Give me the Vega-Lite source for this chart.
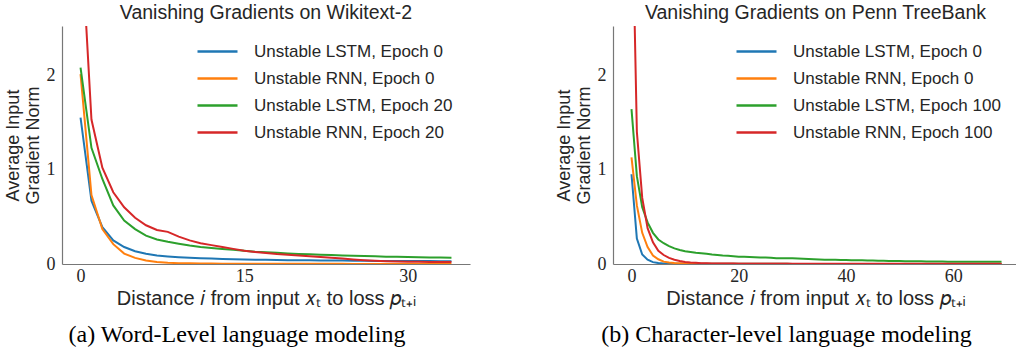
{
  "$schema": "https://vega.github.io/schema/vega-lite/v6.json",
  "background": "white",
  "padding": {"left": 4, "top": 2, "right": 0, "bottom": 0},
  "config": {
    "view": {"stroke": null},
    "font": "Liberation Sans",
    "axis": {
      "domainColor": "#777777", "domainWidth": 1.2, "ticks": false, "grid": false,
      "labelFont": "Liberation Serif", "labelFontSize": 18, "labelColor": "#262626",
      "titleFont": "Liberation Sans", "titleFontWeight": "normal", "titleColor": "#262626"
    },
    "axisX": {"labelPadding": 3, "titleFontSize": 20, "titlePadding": 3},
    "axisY": {"titleFontSize": 18, "titleLineHeight": 20, "titlePadding": 4, "labelPadding": 7},
    "legend": {
      "symbolType": "M-4,0H4", "symbolSize": 100, "symbolStrokeWidth": 2.5,
      "labelFont": "Liberation Sans", "labelFontSize": 17, "labelColor": "#262626", "labelLimit": 0,
      "labelOffset": 28, "rowPadding": 9, "padding": 0, "title": null
    },
    "title": {"font": "Liberation Sans", "fontSize": 19.5, "fontWeight": "normal", "color": "#262626", "offset": 3}
  },
  "resolve": {"scale": {"color": "independent"}, "legend": {"color": "independent"}},
  "spacing": 85,
  "hconcat": [
    {
      "title": {"text": "(a) Word-Level language modeling", "orient": "bottom", "anchor": "middle", "frame": "bounds", "font": "Liberation Serif", "fontSize": 24, "color": "#000000", "offset": 15},
      "resolve": {"scale": {"color": "independent"}, "legend": {"color": "independent"}},
      "vconcat": [
        {
          "title": "Vanishing Gradients on Wikitext-2",
          "width": 408, "height": 238,
          "data": {"values": [
            {"i":0,"Unstable LSTM, Epoch 0":1.55,"Unstable RNN, Epoch 0":2.01,"Unstable LSTM, Epoch 20":2.08,"Unstable RNN, Epoch 20":3.6},
            {"i":1,"Unstable LSTM, Epoch 0":0.67,"Unstable RNN, Epoch 0":0.73,"Unstable LSTM, Epoch 20":1.23,"Unstable RNN, Epoch 20":1.53},
            {"i":2,"Unstable LSTM, Epoch 0":0.39,"Unstable RNN, Epoch 0":0.37,"Unstable LSTM, Epoch 20":0.9,"Unstable RNN, Epoch 20":1.02},
            {"i":3,"Unstable LSTM, Epoch 0":0.25,"Unstable RNN, Epoch 0":0.21,"Unstable LSTM, Epoch 20":0.62,"Unstable RNN, Epoch 20":0.76},
            {"i":4,"Unstable LSTM, Epoch 0":0.18,"Unstable RNN, Epoch 0":0.11,"Unstable LSTM, Epoch 20":0.46,"Unstable RNN, Epoch 20":0.6},
            {"i":5,"Unstable LSTM, Epoch 0":0.135,"Unstable RNN, Epoch 0":0.065,"Unstable LSTM, Epoch 20":0.37,"Unstable RNN, Epoch 20":0.49},
            {"i":6,"Unstable LSTM, Epoch 0":0.108,"Unstable RNN, Epoch 0":0.037,"Unstable LSTM, Epoch 20":0.3,"Unstable RNN, Epoch 20":0.41},
            {"i":7,"Unstable LSTM, Epoch 0":0.09,"Unstable RNN, Epoch 0":0.02,"Unstable LSTM, Epoch 20":0.26,"Unstable RNN, Epoch 20":0.36},
            {"i":8,"Unstable LSTM, Epoch 0":0.08,"Unstable RNN, Epoch 0":0.013,"Unstable LSTM, Epoch 20":0.235,"Unstable RNN, Epoch 20":0.34},
            {"i":9,"Unstable LSTM, Epoch 0":0.072,"Unstable RNN, Epoch 0":0.009,"Unstable LSTM, Epoch 20":0.215,"Unstable RNN, Epoch 20":0.29},
            {"i":10,"Unstable LSTM, Epoch 0":0.066,"Unstable RNN, Epoch 0":0.007,"Unstable LSTM, Epoch 20":0.195,"Unstable RNN, Epoch 20":0.25},
            {"i":11,"Unstable LSTM, Epoch 0":0.061,"Unstable RNN, Epoch 0":0.005,"Unstable LSTM, Epoch 20":0.18,"Unstable RNN, Epoch 20":0.22},
            {"i":12,"Unstable LSTM, Epoch 0":0.057,"Unstable RNN, Epoch 0":0.004,"Unstable LSTM, Epoch 20":0.17,"Unstable RNN, Epoch 20":0.2},
            {"i":13,"Unstable LSTM, Epoch 0":0.053,"Unstable RNN, Epoch 0":0.003,"Unstable LSTM, Epoch 20":0.16,"Unstable RNN, Epoch 20":0.18},
            {"i":14,"Unstable LSTM, Epoch 0":0.05,"Unstable RNN, Epoch 0":0.003,"Unstable LSTM, Epoch 20":0.15,"Unstable RNN, Epoch 20":0.16},
            {"i":15,"Unstable LSTM, Epoch 0":0.048,"Unstable RNN, Epoch 0":0.002,"Unstable LSTM, Epoch 20":0.14,"Unstable RNN, Epoch 20":0.14},
            {"i":16,"Unstable LSTM, Epoch 0":0.046,"Unstable RNN, Epoch 0":0.002,"Unstable LSTM, Epoch 20":0.13,"Unstable RNN, Epoch 20":0.128},
            {"i":17,"Unstable LSTM, Epoch 0":0.044,"Unstable RNN, Epoch 0":0.002,"Unstable LSTM, Epoch 20":0.125,"Unstable RNN, Epoch 20":0.116},
            {"i":18,"Unstable LSTM, Epoch 0":0.042,"Unstable RNN, Epoch 0":0.002,"Unstable LSTM, Epoch 20":0.118,"Unstable RNN, Epoch 20":0.105},
            {"i":19,"Unstable LSTM, Epoch 0":0.041,"Unstable RNN, Epoch 0":0.002,"Unstable LSTM, Epoch 20":0.112,"Unstable RNN, Epoch 20":0.097},
            {"i":20,"Unstable LSTM, Epoch 0":0.04,"Unstable RNN, Epoch 0":0.002,"Unstable LSTM, Epoch 20":0.107,"Unstable RNN, Epoch 20":0.09},
            {"i":21,"Unstable LSTM, Epoch 0":0.039,"Unstable RNN, Epoch 0":0.002,"Unstable LSTM, Epoch 20":0.102,"Unstable RNN, Epoch 20":0.082},
            {"i":22,"Unstable LSTM, Epoch 0":0.038,"Unstable RNN, Epoch 0":0.002,"Unstable LSTM, Epoch 20":0.098,"Unstable RNN, Epoch 20":0.074},
            {"i":23,"Unstable LSTM, Epoch 0":0.037,"Unstable RNN, Epoch 0":0.002,"Unstable LSTM, Epoch 20":0.094,"Unstable RNN, Epoch 20":0.066},
            {"i":24,"Unstable LSTM, Epoch 0":0.036,"Unstable RNN, Epoch 0":0.002,"Unstable LSTM, Epoch 20":0.09,"Unstable RNN, Epoch 20":0.057},
            {"i":25,"Unstable LSTM, Epoch 0":0.035,"Unstable RNN, Epoch 0":0.001,"Unstable LSTM, Epoch 20":0.087,"Unstable RNN, Epoch 20":0.048},
            {"i":26,"Unstable LSTM, Epoch 0":0.034,"Unstable RNN, Epoch 0":0.001,"Unstable LSTM, Epoch 20":0.084,"Unstable RNN, Epoch 20":0.04},
            {"i":27,"Unstable LSTM, Epoch 0":0.033,"Unstable RNN, Epoch 0":0.001,"Unstable LSTM, Epoch 20":0.081,"Unstable RNN, Epoch 20":0.034},
            {"i":28,"Unstable LSTM, Epoch 0":0.033,"Unstable RNN, Epoch 0":0.001,"Unstable LSTM, Epoch 20":0.078,"Unstable RNN, Epoch 20":0.03},
            {"i":29,"Unstable LSTM, Epoch 0":0.032,"Unstable RNN, Epoch 0":0.001,"Unstable LSTM, Epoch 20":0.076,"Unstable RNN, Epoch 20":0.027},
            {"i":30,"Unstable LSTM, Epoch 0":0.032,"Unstable RNN, Epoch 0":0.001,"Unstable LSTM, Epoch 20":0.074,"Unstable RNN, Epoch 20":0.025},
            {"i":31,"Unstable LSTM, Epoch 0":0.031,"Unstable RNN, Epoch 0":0.001,"Unstable LSTM, Epoch 20":0.072,"Unstable RNN, Epoch 20":0.023},
            {"i":32,"Unstable LSTM, Epoch 0":0.031,"Unstable RNN, Epoch 0":0.001,"Unstable LSTM, Epoch 20":0.07,"Unstable RNN, Epoch 20":0.022},
            {"i":33,"Unstable LSTM, Epoch 0":0.03,"Unstable RNN, Epoch 0":0.001,"Unstable LSTM, Epoch 20":0.068,"Unstable RNN, Epoch 20":0.021},
            {"i":34,"Unstable LSTM, Epoch 0":0.03,"Unstable RNN, Epoch 0":0.001,"Unstable LSTM, Epoch 20":0.066,"Unstable RNN, Epoch 20":0.02}
          ]},
          "transform": [{"fold": ["Unstable LSTM, Epoch 0","Unstable RNN, Epoch 0","Unstable LSTM, Epoch 20","Unstable RNN, Epoch 20"], "as": ["series","value"]}],
          "mark": {"type": "line", "clip": true, "strokeWidth": 2},
          "encoding": {
            "x": {"field": "i", "type": "quantitative", "scale": {"domain": [-1.7, 35.7], "nice": false, "zero": false}, "axis": {"values": [0,15,30], "title": "Distance 𝑖 from input 𝑥ₜ to loss 𝑝ₜ₊ᵢ"}},
            "y": {"field": "value", "type": "quantitative", "scale": {"domain": [0, 2.52], "nice": false}, "axis": {"values": [0,1,2], "title": ["Average Input","Gradient Norm"]}},
            "color": {"field": "series", "type": "nominal",
              "scale": {"domain": ["Unstable LSTM, Epoch 0","Unstable RNN, Epoch 0","Unstable LSTM, Epoch 20","Unstable RNN, Epoch 20"], "range": ["#1f77b4","#ff7f0e","#2ca02c","#d62728"]},
              "legend": {"orient": "top-right", "offset": 17}}
          }
        }
      ]
    },
    {
      "title": {"text": "(b) Character-level language modeling", "orient": "bottom", "anchor": "middle", "frame": "bounds", "font": "Liberation Serif", "fontSize": 24, "color": "#000000", "offset": 15},
      "resolve": {"scale": {"color": "independent"}, "legend": {"color": "independent"}},
      "vconcat": [
        {
          "title": "Vanishing Gradients on Penn TreeBank",
          "width": 405, "height": 238,
          "data": {"values": [
            {"i":0,"Unstable LSTM, Epoch 0":0.95,"Unstable RNN, Epoch 0":1.13,"Unstable LSTM, Epoch 100":1.64,"Unstable RNN, Epoch 100":4.2},
            {"i":1,"Unstable LSTM, Epoch 0":0.27,"Unstable RNN, Epoch 0":0.62,"Unstable LSTM, Epoch 100":0.93,"Unstable RNN, Epoch 100":1.4},
            {"i":2,"Unstable LSTM, Epoch 0":0.1,"Unstable RNN, Epoch 0":0.33,"Unstable LSTM, Epoch 100":0.6,"Unstable RNN, Epoch 100":0.7},
            {"i":3,"Unstable LSTM, Epoch 0":0.045,"Unstable RNN, Epoch 0":0.18,"Unstable LSTM, Epoch 100":0.44,"Unstable RNN, Epoch 100":0.38},
            {"i":4,"Unstable LSTM, Epoch 0":0.02,"Unstable RNN, Epoch 0":0.09,"Unstable LSTM, Epoch 100":0.33,"Unstable RNN, Epoch 100":0.23},
            {"i":5,"Unstable LSTM, Epoch 0":0.01,"Unstable RNN, Epoch 0":0.05,"Unstable LSTM, Epoch 100":0.26,"Unstable RNN, Epoch 100":0.14},
            {"i":6,"Unstable LSTM, Epoch 0":0.006,"Unstable RNN, Epoch 0":0.025,"Unstable LSTM, Epoch 100":0.22,"Unstable RNN, Epoch 100":0.095},
            {"i":7,"Unstable LSTM, Epoch 0":0.004,"Unstable RNN, Epoch 0":0.015,"Unstable LSTM, Epoch 100":0.19,"Unstable RNN, Epoch 100":0.065},
            {"i":8,"Unstable LSTM, Epoch 0":0.003,"Unstable RNN, Epoch 0":0.01,"Unstable LSTM, Epoch 100":0.165,"Unstable RNN, Epoch 100":0.045},
            {"i":9,"Unstable LSTM, Epoch 0":0.002,"Unstable RNN, Epoch 0":0.007,"Unstable LSTM, Epoch 100":0.148,"Unstable RNN, Epoch 100":0.032},
            {"i":10,"Unstable LSTM, Epoch 0":0.002,"Unstable RNN, Epoch 0":0.005,"Unstable LSTM, Epoch 100":0.135,"Unstable RNN, Epoch 100":0.022},
            {"i":11,"Unstable LSTM, Epoch 0":0.002,"Unstable RNN, Epoch 0":0.004,"Unstable LSTM, Epoch 100":0.127,"Unstable RNN, Epoch 100":0.016},
            {"i":12,"Unstable LSTM, Epoch 0":0.002,"Unstable RNN, Epoch 0":0.003,"Unstable LSTM, Epoch 100":0.12,"Unstable RNN, Epoch 100":0.012},
            {"i":13,"Unstable LSTM, Epoch 0":0.002,"Unstable RNN, Epoch 0":0.003,"Unstable LSTM, Epoch 100":0.115,"Unstable RNN, Epoch 100":0.009},
            {"i":14,"Unstable LSTM, Epoch 0":0.002,"Unstable RNN, Epoch 0":0.002,"Unstable LSTM, Epoch 100":0.108,"Unstable RNN, Epoch 100":0.007},
            {"i":15,"Unstable LSTM, Epoch 0":0.002,"Unstable RNN, Epoch 0":0.002,"Unstable LSTM, Epoch 100":0.1,"Unstable RNN, Epoch 100":0.006},
            {"i":16,"Unstable LSTM, Epoch 0":0.002,"Unstable RNN, Epoch 0":0.002,"Unstable LSTM, Epoch 100":0.095,"Unstable RNN, Epoch 100":0.005},
            {"i":17,"Unstable LSTM, Epoch 0":0.002,"Unstable RNN, Epoch 0":0.002,"Unstable LSTM, Epoch 100":0.09,"Unstable RNN, Epoch 100":0.005},
            {"i":18,"Unstable LSTM, Epoch 0":0.002,"Unstable RNN, Epoch 0":0.002,"Unstable LSTM, Epoch 100":0.087,"Unstable RNN, Epoch 100":0.004},
            {"i":19,"Unstable LSTM, Epoch 0":0.002,"Unstable RNN, Epoch 0":0.002,"Unstable LSTM, Epoch 100":0.083,"Unstable RNN, Epoch 100":0.004},
            {"i":20,"Unstable LSTM, Epoch 0":0.002,"Unstable RNN, Epoch 0":0.002,"Unstable LSTM, Epoch 100":0.078,"Unstable RNN, Epoch 100":0.003},
            {"i":21,"Unstable LSTM, Epoch 0":0.002,"Unstable RNN, Epoch 0":0.002,"Unstable LSTM, Epoch 100":0.076,"Unstable RNN, Epoch 100":0.003},
            {"i":22,"Unstable LSTM, Epoch 0":0.002,"Unstable RNN, Epoch 0":0.002,"Unstable LSTM, Epoch 100":0.074,"Unstable RNN, Epoch 100":0.003},
            {"i":23,"Unstable LSTM, Epoch 0":0.002,"Unstable RNN, Epoch 0":0.002,"Unstable LSTM, Epoch 100":0.072,"Unstable RNN, Epoch 100":0.003},
            {"i":24,"Unstable LSTM, Epoch 0":0.002,"Unstable RNN, Epoch 0":0.002,"Unstable LSTM, Epoch 100":0.07,"Unstable RNN, Epoch 100":0.003},
            {"i":25,"Unstable LSTM, Epoch 0":0.002,"Unstable RNN, Epoch 0":0.002,"Unstable LSTM, Epoch 100":0.068,"Unstable RNN, Epoch 100":0.003},
            {"i":26,"Unstable LSTM, Epoch 0":0.002,"Unstable RNN, Epoch 0":0.002,"Unstable LSTM, Epoch 100":0.066,"Unstable RNN, Epoch 100":0.003},
            {"i":27,"Unstable LSTM, Epoch 0":0.002,"Unstable RNN, Epoch 0":0.002,"Unstable LSTM, Epoch 100":0.062,"Unstable RNN, Epoch 100":0.003},
            {"i":28,"Unstable LSTM, Epoch 0":0.002,"Unstable RNN, Epoch 0":0.002,"Unstable LSTM, Epoch 100":0.062,"Unstable RNN, Epoch 100":0.003},
            {"i":29,"Unstable LSTM, Epoch 0":0.002,"Unstable RNN, Epoch 0":0.002,"Unstable LSTM, Epoch 100":0.061,"Unstable RNN, Epoch 100":0.003},
            {"i":30,"Unstable LSTM, Epoch 0":0.001,"Unstable RNN, Epoch 0":0.001,"Unstable LSTM, Epoch 100":0.06,"Unstable RNN, Epoch 100":0.003},
            {"i":31,"Unstable LSTM, Epoch 0":0.001,"Unstable RNN, Epoch 0":0.001,"Unstable LSTM, Epoch 100":0.058,"Unstable RNN, Epoch 100":0.003},
            {"i":32,"Unstable LSTM, Epoch 0":0.001,"Unstable RNN, Epoch 0":0.001,"Unstable LSTM, Epoch 100":0.055,"Unstable RNN, Epoch 100":0.003},
            {"i":33,"Unstable LSTM, Epoch 0":0.001,"Unstable RNN, Epoch 0":0.001,"Unstable LSTM, Epoch 100":0.052,"Unstable RNN, Epoch 100":0.003},
            {"i":34,"Unstable LSTM, Epoch 0":0.001,"Unstable RNN, Epoch 0":0.001,"Unstable LSTM, Epoch 100":0.05,"Unstable RNN, Epoch 100":0.003},
            {"i":35,"Unstable LSTM, Epoch 0":0.001,"Unstable RNN, Epoch 0":0.001,"Unstable LSTM, Epoch 100":0.048,"Unstable RNN, Epoch 100":0.003},
            {"i":36,"Unstable LSTM, Epoch 0":0.001,"Unstable RNN, Epoch 0":0.001,"Unstable LSTM, Epoch 100":0.046,"Unstable RNN, Epoch 100":0.003},
            {"i":37,"Unstable LSTM, Epoch 0":0.001,"Unstable RNN, Epoch 0":0.001,"Unstable LSTM, Epoch 100":0.045,"Unstable RNN, Epoch 100":0.003},
            {"i":38,"Unstable LSTM, Epoch 0":0.001,"Unstable RNN, Epoch 0":0.001,"Unstable LSTM, Epoch 100":0.044,"Unstable RNN, Epoch 100":0.003},
            {"i":39,"Unstable LSTM, Epoch 0":0.001,"Unstable RNN, Epoch 0":0.001,"Unstable LSTM, Epoch 100":0.043,"Unstable RNN, Epoch 100":0.003},
            {"i":40,"Unstable LSTM, Epoch 0":0.001,"Unstable RNN, Epoch 0":0.001,"Unstable LSTM, Epoch 100":0.042,"Unstable RNN, Epoch 100":0.002},
            {"i":41,"Unstable LSTM, Epoch 0":0.001,"Unstable RNN, Epoch 0":0.001,"Unstable LSTM, Epoch 100":0.041,"Unstable RNN, Epoch 100":0.002},
            {"i":42,"Unstable LSTM, Epoch 0":0.001,"Unstable RNN, Epoch 0":0.001,"Unstable LSTM, Epoch 100":0.04,"Unstable RNN, Epoch 100":0.002},
            {"i":43,"Unstable LSTM, Epoch 0":0.001,"Unstable RNN, Epoch 0":0.001,"Unstable LSTM, Epoch 100":0.039,"Unstable RNN, Epoch 100":0.002},
            {"i":44,"Unstable LSTM, Epoch 0":0.001,"Unstable RNN, Epoch 0":0.001,"Unstable LSTM, Epoch 100":0.038,"Unstable RNN, Epoch 100":0.002},
            {"i":45,"Unstable LSTM, Epoch 0":0.001,"Unstable RNN, Epoch 0":0.001,"Unstable LSTM, Epoch 100":0.037,"Unstable RNN, Epoch 100":0.002},
            {"i":46,"Unstable LSTM, Epoch 0":0.001,"Unstable RNN, Epoch 0":0.001,"Unstable LSTM, Epoch 100":0.035,"Unstable RNN, Epoch 100":0.002},
            {"i":47,"Unstable LSTM, Epoch 0":0.001,"Unstable RNN, Epoch 0":0.001,"Unstable LSTM, Epoch 100":0.034,"Unstable RNN, Epoch 100":0.002},
            {"i":48,"Unstable LSTM, Epoch 0":0.001,"Unstable RNN, Epoch 0":0.001,"Unstable LSTM, Epoch 100":0.033,"Unstable RNN, Epoch 100":0.002},
            {"i":49,"Unstable LSTM, Epoch 0":0.001,"Unstable RNN, Epoch 0":0.001,"Unstable LSTM, Epoch 100":0.032,"Unstable RNN, Epoch 100":0.002},
            {"i":50,"Unstable LSTM, Epoch 0":0.001,"Unstable RNN, Epoch 0":0.001,"Unstable LSTM, Epoch 100":0.031,"Unstable RNN, Epoch 100":0.002},
            {"i":51,"Unstable LSTM, Epoch 0":0.001,"Unstable RNN, Epoch 0":0.001,"Unstable LSTM, Epoch 100":0.03,"Unstable RNN, Epoch 100":0.002},
            {"i":52,"Unstable LSTM, Epoch 0":0.001,"Unstable RNN, Epoch 0":0.001,"Unstable LSTM, Epoch 100":0.029,"Unstable RNN, Epoch 100":0.002},
            {"i":53,"Unstable LSTM, Epoch 0":0.001,"Unstable RNN, Epoch 0":0.001,"Unstable LSTM, Epoch 100":0.028,"Unstable RNN, Epoch 100":0.002},
            {"i":54,"Unstable LSTM, Epoch 0":0.001,"Unstable RNN, Epoch 0":0.001,"Unstable LSTM, Epoch 100":0.028,"Unstable RNN, Epoch 100":0.002},
            {"i":55,"Unstable LSTM, Epoch 0":0.001,"Unstable RNN, Epoch 0":0.001,"Unstable LSTM, Epoch 100":0.027,"Unstable RNN, Epoch 100":0.002},
            {"i":56,"Unstable LSTM, Epoch 0":0.001,"Unstable RNN, Epoch 0":0.001,"Unstable LSTM, Epoch 100":0.027,"Unstable RNN, Epoch 100":0.002},
            {"i":57,"Unstable LSTM, Epoch 0":0.001,"Unstable RNN, Epoch 0":0.001,"Unstable LSTM, Epoch 100":0.026,"Unstable RNN, Epoch 100":0.002},
            {"i":58,"Unstable LSTM, Epoch 0":0.001,"Unstable RNN, Epoch 0":0.001,"Unstable LSTM, Epoch 100":0.026,"Unstable RNN, Epoch 100":0.002},
            {"i":59,"Unstable LSTM, Epoch 0":0.001,"Unstable RNN, Epoch 0":0.001,"Unstable LSTM, Epoch 100":0.025,"Unstable RNN, Epoch 100":0.002},
            {"i":60,"Unstable LSTM, Epoch 0":0.001,"Unstable RNN, Epoch 0":0.001,"Unstable LSTM, Epoch 100":0.025,"Unstable RNN, Epoch 100":0.002},
            {"i":61,"Unstable LSTM, Epoch 0":0.001,"Unstable RNN, Epoch 0":0.001,"Unstable LSTM, Epoch 100":0.025,"Unstable RNN, Epoch 100":0.002},
            {"i":62,"Unstable LSTM, Epoch 0":0.001,"Unstable RNN, Epoch 0":0.001,"Unstable LSTM, Epoch 100":0.024,"Unstable RNN, Epoch 100":0.002},
            {"i":63,"Unstable LSTM, Epoch 0":0.001,"Unstable RNN, Epoch 0":0.001,"Unstable LSTM, Epoch 100":0.024,"Unstable RNN, Epoch 100":0.002},
            {"i":64,"Unstable LSTM, Epoch 0":0.001,"Unstable RNN, Epoch 0":0.001,"Unstable LSTM, Epoch 100":0.024,"Unstable RNN, Epoch 100":0.002},
            {"i":65,"Unstable LSTM, Epoch 0":0.001,"Unstable RNN, Epoch 0":0.001,"Unstable LSTM, Epoch 100":0.024,"Unstable RNN, Epoch 100":0.002},
            {"i":66,"Unstable LSTM, Epoch 0":0.001,"Unstable RNN, Epoch 0":0.001,"Unstable LSTM, Epoch 100":0.024,"Unstable RNN, Epoch 100":0.002},
            {"i":67,"Unstable LSTM, Epoch 0":0.001,"Unstable RNN, Epoch 0":0.001,"Unstable LSTM, Epoch 100":0.024,"Unstable RNN, Epoch 100":0.002},
            {"i":68,"Unstable LSTM, Epoch 0":0.001,"Unstable RNN, Epoch 0":0.001,"Unstable LSTM, Epoch 100":0.024,"Unstable RNN, Epoch 100":0.002},
            {"i":69,"Unstable LSTM, Epoch 0":0.001,"Unstable RNN, Epoch 0":0.001,"Unstable LSTM, Epoch 100":0.024,"Unstable RNN, Epoch 100":0.002}
          ]},
          "transform": [{"fold": ["Unstable LSTM, Epoch 0","Unstable RNN, Epoch 0","Unstable LSTM, Epoch 100","Unstable RNN, Epoch 100"], "as": ["series","value"]}],
          "mark": {"type": "line", "clip": true, "strokeWidth": 2},
          "encoding": {
            "x": {"field": "i", "type": "quantitative", "scale": {"domain": [-3.45, 72.07], "nice": false, "zero": false}, "axis": {"values": [0,20,40,60], "title": "Distance 𝑖 from input 𝑥ₜ to loss 𝑝ₜ₊ᵢ"}},
            "y": {"field": "value", "type": "quantitative", "scale": {"domain": [0, 2.52], "nice": false}, "axis": {"values": [0,1,2], "title": ["Average Input","Gradient Norm"]}},
            "color": {"field": "series", "type": "nominal",
              "scale": {"domain": ["Unstable LSTM, Epoch 0","Unstable RNN, Epoch 0","Unstable LSTM, Epoch 100","Unstable RNN, Epoch 100"], "range": ["#1f77b4","#ff7f0e","#2ca02c","#d62728"]},
              "legend": {"orient": "top-right", "offset": 17}}
          }
        }
      ]
    }
  ]
}
